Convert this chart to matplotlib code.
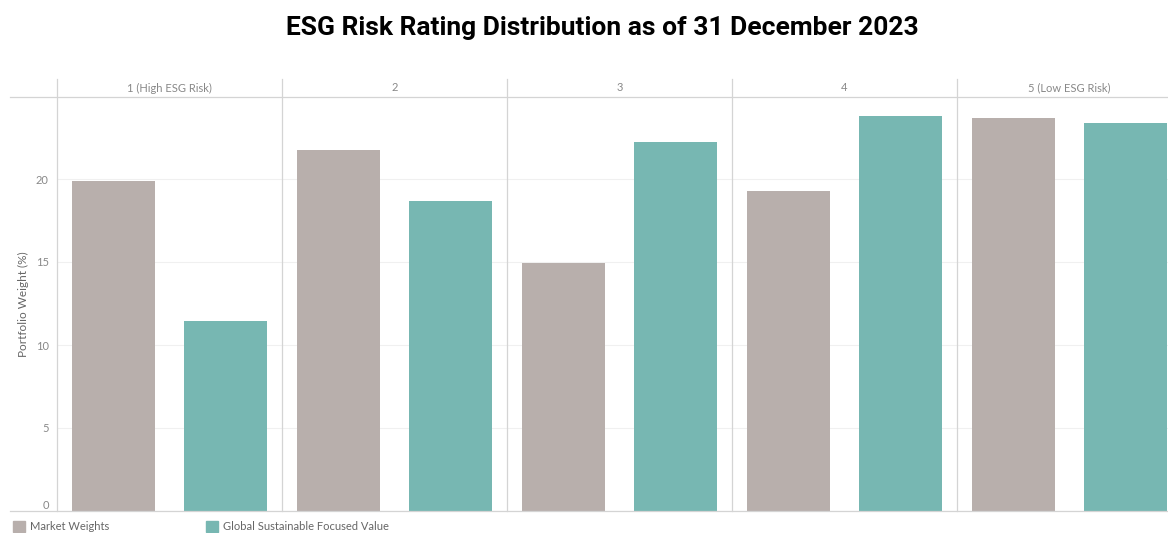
import matplotlib.pyplot as plt
import matplotlib.transforms as mtransforms

# ESG risk rating buckets and portfolio weights (%)
categories = ['1 (High ESG Risk)', '2', '3', '4', '5 (Low ESG Risk)']
market_weights = [19.9, 21.75, 14.95, 19.25, 23.65]
gsfv_weights = [11.45, 18.7, 22.25, 23.8, 23.35]
yticks = [0, 5, 10, 15, 20]

c_market = '#b8afac'
c_gsfv = '#77b7b2'
c_text = '#888888'
c_line = '#d4d4d4'

plt.rcParams['font.family'] = ['Lato', 'DejaVu Sans']

fig = plt.figure(figsize=(11.68, 5.33), dpi=100)
ax = fig.add_axes([57/1168, 1 - 511/533, 1 - 57/1168, (511 - 97)/533])

# each facet spans 2 x-units, bars centred at +0.5 and +1.5
for i, cat in enumerate(categories):
    ax.bar(i*2 + 0.5, market_weights[i], width=0.74, color=c_market)
    ax.bar(i*2 + 1.5, gsfv_weights[i], width=0.74, color=c_gsfv)

ax.set_xlim(0, 9.876)
ax.set_ylim(0, 414/16.6)
ax.set_yticks(yticks)
ax.set_yticklabels([str(t) for t in yticks], color=c_text, fontsize=8)
ax.tick_params(axis='y', length=0, pad=6)
ax.get_yticklabels()[0].set_va('bottom')
ax.set_xticks([])
ax.grid(axis='y', color='#f0f0f0', linewidth=0.8)
ax.set_axisbelow(True)
for s in ax.spines.values():
    s.set_visible(False)

ax.set_ylabel('Portfolio Weight (%)', color='#666666', fontsize=8.5)
ax.yaxis.set_label_coords(-(57 - 29) / 1111, 0.5)

# facet dividers and header band
trans = mtransforms.blended_transform_factory(ax.transData, ax.transAxes)
top_ext = (511 - 79) / 414
for i in range(5):
    ax.plot([i*2, i*2], [0, top_ext], transform=trans, color=c_line,
            linewidth=0.9, clip_on=False)
    ax.text(i*2 + 1, (511 - 88) / 414, categories[i], transform=trans,
            ha='center', va='center', color=c_text, fontsize=8)

x0 = (10 - 57) / 1111
for yy in [0, 1]:
    ax.plot([x0, 1], [yy, yy], transform=ax.transAxes, color=c_line,
            linewidth=0.9, clip_on=False)

fig.text(0.516, 1 - 28/533, 'ESG Risk Rating Distribution as of 31 December 2023',
         ha='center', va='center', fontsize=19, fontweight='bold',
         family=['Roboto', 'DejaVu Sans'])

# legend along the bottom
fig.add_artist(plt.Rectangle((13/1168, 1/533), 12/1168, 11/533,
                             color=c_market, transform=fig.transFigure))
fig.text(30/1168, 1 - 527/533, 'Market Weights', color='#666666', fontsize=8, va='center')
fig.add_artist(plt.Rectangle((206/1168, 1/533), 12/1168, 11/533,
                             color=c_gsfv, transform=fig.transFigure))
fig.text(223/1168, 1 - 527/533, 'Global Sustainable Focused Value', color='#666666',
         fontsize=8, va='center')

fig.savefig('out.png', dpi=100)
